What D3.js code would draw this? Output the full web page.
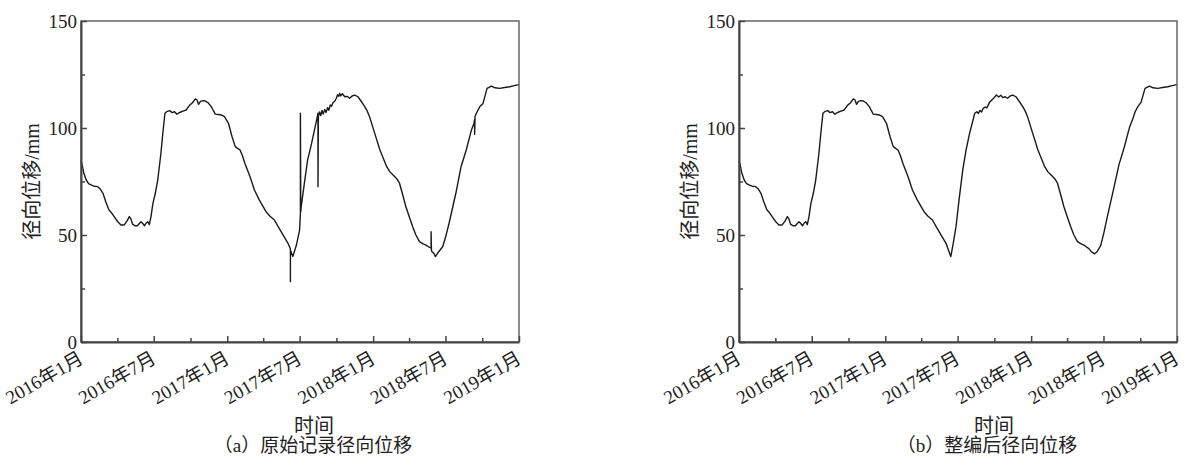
<!DOCTYPE html>
<html>
<head>
<meta charset="utf-8">
<script src="https://cdn.jsdelivr.net/npm/d3@7"></script>
<style>
  body { margin: 0; background: #fff; }
  svg { display: block; }
  text { font-family: "Liberation Serif", "Noto Sans CJK SC", serif; fill: #222; }
</style>
</head>
<body>
<svg width="1191" height="458"></svg>
<script>
// raw record (with spikes, repeated dates = vertical jumps)
const rawSeries = [
  ["2016-01-01", 84.5], ["2016-01-03", 83.5], ["2016-01-08", 79], ["2016-01-14", 75.7], ["2016-01-20", 74],
  ["2016-01-26", 73.4], ["2016-02-03", 72.8], ["2016-02-12", 72.6], ["2016-02-18", 71.5], ["2016-02-25", 69.5],
  ["2016-03-03", 65.5], ["2016-03-11", 61.7], ["2016-03-17", 60.5], ["2016-03-24", 58.6], ["2016-04-02", 56.2],
  ["2016-04-10", 54.7], ["2016-04-18", 54.7], ["2016-04-25", 56.5], ["2016-05-01", 58.6], ["2016-05-05", 57.5],
  ["2016-05-09", 55.1], ["2016-05-15", 54.3], ["2016-05-21", 54.3], ["2016-05-30", 56.2], ["2016-06-03", 55.5],
  ["2016-06-08", 54.3], ["2016-06-12", 55.6], ["2016-06-16", 56.2], ["2016-06-20", 54.8], ["2016-06-24", 58.5],
  ["2016-06-29", 64.8], ["2016-07-05", 69.5], ["2016-07-11", 75.7], ["2016-07-19", 88.2], ["2016-07-24", 98],
  ["2016-07-29", 106.9], ["2016-08-04", 107.8], ["2016-08-10", 108.1], ["2016-08-16", 107.2], ["2016-08-22", 107.6],
  ["2016-08-28", 106.4], ["2016-09-03", 107.2], ["2016-09-08", 107.6], ["2016-09-14", 108], ["2016-09-20", 108.4],
  ["2016-09-29", 110.7], ["2016-10-06", 111.8], ["2016-10-13", 113.6], ["2016-10-17", 113.2], ["2016-10-21", 111.1],
  ["2016-10-26", 112.4], ["2016-11-01", 112.8], ["2016-11-07", 112.6], ["2016-11-14", 111.8], ["2016-11-22", 110],
  ["2016-11-27", 108.2], ["2016-12-02", 106.5], ["2016-12-10", 106.3], ["2016-12-17", 106.1], ["2016-12-25", 105.3],
  ["2017-01-04", 102.2], ["2017-01-13", 95.9], ["2017-01-21", 91.3], ["2017-01-27", 90.5], ["2017-02-02", 89.7],
  ["2017-02-08", 87], ["2017-02-14", 83.5], ["2017-02-27", 77.2], ["2017-03-10", 71], ["2017-03-22", 66.4],
  ["2017-04-08", 60.9], ["2017-04-18", 58.8], ["2017-04-29", 57], ["2017-05-08", 54], ["2017-05-16", 51.5],
  ["2017-06-02", 46.1], ["2017-06-08", 43.5], ["2017-06-08", 28.2], ["2017-06-08", 43], ["2017-06-14", 39.9],
  ["2017-06-23", 45.3], ["2017-07-01", 52.3], ["2017-07-03", 60], ["2017-07-03", 106.9], ["2017-07-04", 61],
  ["2017-07-05", 63.2], ["2017-07-13", 74.2], ["2017-07-21", 85], ["2017-07-31", 92.8], ["2017-08-09", 100.6],
  ["2017-08-13", 104], ["2017-08-16", 106.9], ["2017-08-16", 72.6], ["2017-08-17", 105.5], ["2017-08-20", 107.5],
  ["2017-08-23", 105.8], ["2017-08-26", 108.2], ["2017-08-29", 106.5], ["2017-09-02", 108.6], ["2017-09-05", 107.2],
  ["2017-09-09", 109.5], ["2017-09-12", 108.3], ["2017-09-16", 110.8], ["2017-09-19", 110.2], ["2017-09-23", 112],
  ["2017-09-27", 112.5], ["2017-10-01", 113.9], ["2017-10-04", 115.5], ["2017-10-07", 114.8], ["2017-10-09", 116.2],
  ["2017-10-12", 115], ["2017-10-16", 116], ["2017-10-22", 114.6], ["2017-10-28", 114.8], ["2017-11-03", 113.9],
  ["2017-11-10", 115], ["2017-11-16", 115.4], ["2017-11-24", 114.6], ["2017-12-02", 112.5], ["2017-12-11", 110],
  ["2017-12-17", 108], ["2017-12-23", 105.3], ["2018-01-05", 97.5], ["2018-01-18", 89.7], ["2018-02-04", 81.9],
  ["2018-02-12", 79.5], ["2018-02-20", 78], ["2018-03-01", 76.3], ["2018-03-08", 74.2], ["2018-03-16", 68.8],
  ["2018-03-24", 63.2], ["2018-04-02", 58.2], ["2018-04-10", 53.9], ["2018-04-18", 50], ["2018-04-27", 46.9],
  ["2018-05-05", 46], ["2018-05-13", 45.3], ["2018-05-26", 43.8], ["2018-05-26", 51.5], ["2018-05-27", 42.5],
  ["2018-06-02", 41.4], ["2018-06-06", 39.9], ["2018-06-12", 41.7], ["2018-06-24", 44.5], ["2018-07-02", 49.5],
  ["2018-07-10", 55.5], ["2018-07-27", 69.5], ["2018-08-09", 81.9], ["2018-08-22", 89.7], ["2018-09-04", 99.1],
  ["2018-09-10", 102], ["2018-09-12", 104], ["2018-09-12", 97], ["2018-09-13", 105.5], ["2018-09-18", 107.5],
  ["2018-09-25", 110], ["2018-10-03", 111.5], ["2018-10-13", 118.5], ["2018-10-24", 119.6], ["2018-11-02", 118.8],
  ["2018-11-14", 118.5], ["2018-11-26", 118.9], ["2018-12-09", 119.3], ["2018-12-20", 119.8], ["2018-12-31", 120.3]
];

// compiled (cleaned) record
const cleanSeries = [
  ["2016-01-01", 84.5], ["2016-01-03", 83.5], ["2016-01-08", 79], ["2016-01-14", 75.7], ["2016-01-20", 74],
  ["2016-01-26", 73.4], ["2016-02-03", 72.8], ["2016-02-12", 72.6], ["2016-02-18", 71.5], ["2016-02-25", 69.5],
  ["2016-03-03", 65.5], ["2016-03-11", 61.7], ["2016-03-17", 60.5], ["2016-03-24", 58.6], ["2016-04-02", 56.2],
  ["2016-04-10", 54.7], ["2016-04-18", 54.7], ["2016-04-25", 56.5], ["2016-05-01", 58.6], ["2016-05-05", 57.5],
  ["2016-05-09", 55.1], ["2016-05-15", 54.3], ["2016-05-21", 54.3], ["2016-05-30", 56.2], ["2016-06-03", 55.5],
  ["2016-06-08", 54.3], ["2016-06-12", 55.6], ["2016-06-16", 56.2], ["2016-06-20", 54.8], ["2016-06-24", 58.5],
  ["2016-06-29", 64.8], ["2016-07-05", 69.5], ["2016-07-11", 75.7], ["2016-07-19", 88.2], ["2016-07-24", 98],
  ["2016-07-29", 106.9], ["2016-08-04", 107.8], ["2016-08-10", 108.1], ["2016-08-16", 107.2], ["2016-08-22", 107.6],
  ["2016-08-28", 106.4], ["2016-09-03", 107.2], ["2016-09-08", 107.6], ["2016-09-14", 108], ["2016-09-20", 108.4],
  ["2016-09-29", 110.7], ["2016-10-06", 111.8], ["2016-10-13", 113.6], ["2016-10-17", 113.2], ["2016-10-21", 111.1],
  ["2016-10-26", 112.4], ["2016-11-01", 112.8], ["2016-11-07", 112.6], ["2016-11-14", 111.8], ["2016-11-22", 110],
  ["2016-11-27", 108.2], ["2016-12-02", 106.5], ["2016-12-10", 106.3], ["2016-12-17", 106.1], ["2016-12-25", 105.3],
  ["2017-01-04", 102.2], ["2017-01-13", 95.9], ["2017-01-21", 91.3], ["2017-01-27", 90.5], ["2017-02-02", 89.7],
  ["2017-02-08", 87], ["2017-02-14", 83.5], ["2017-02-27", 77.2], ["2017-03-10", 71], ["2017-03-22", 66.4],
  ["2017-04-08", 60.9], ["2017-04-18", 58.8], ["2017-04-29", 57], ["2017-05-08", 54], ["2017-05-16", 51.5],
  ["2017-06-02", 46.1], ["2017-06-08", 43], ["2017-06-14", 39.9], ["2017-06-20", 46], ["2017-06-27", 53.9],
  ["2017-07-05", 67], ["2017-07-14", 80.4], ["2017-07-22", 89.5], ["2017-07-31", 97.5], ["2017-08-13", 106.9],
  ["2017-08-18", 107.6], ["2017-08-22", 106.8], ["2017-08-26", 108.2], ["2017-08-30", 107.5], ["2017-09-03", 109.2],
  ["2017-09-08", 109.8], ["2017-09-12", 109.4], ["2017-09-20", 112.3], ["2017-09-27", 113.5], ["2017-10-02", 114.5],
  ["2017-10-06", 115.4], ["2017-10-12", 114.5], ["2017-10-17", 115.3], ["2017-10-22", 114.2], ["2017-10-28", 114.6],
  ["2017-11-03", 113.9], ["2017-11-10", 115], ["2017-11-16", 115.4], ["2017-11-24", 114.6], ["2017-12-02", 112.5],
  ["2017-12-11", 110], ["2017-12-17", 108], ["2017-12-23", 105.3], ["2018-01-05", 97.5], ["2018-01-18", 89.7],
  ["2018-02-04", 81.9], ["2018-02-12", 79.5], ["2018-02-20", 78], ["2018-03-01", 76.3], ["2018-03-08", 74.2],
  ["2018-03-16", 68.8], ["2018-03-24", 63.2], ["2018-04-02", 58.2], ["2018-04-10", 53.9], ["2018-04-18", 50],
  ["2018-04-27", 46.9], ["2018-05-05", 46], ["2018-05-13", 45.3], ["2018-05-26", 43.5], ["2018-06-02", 42],
  ["2018-06-09", 41.2], ["2018-06-15", 42.2], ["2018-06-24", 45], ["2018-07-02", 51], ["2018-07-10", 58],
  ["2018-07-27", 72], ["2018-08-09", 83], ["2018-08-22", 91], ["2018-09-04", 100.2], ["2018-09-13", 104.5],
  ["2018-09-18", 107.5], ["2018-09-25", 110], ["2018-10-03", 112], ["2018-10-13", 118.5], ["2018-10-24", 119.6],
  ["2018-11-02", 118.8], ["2018-11-14", 118.5], ["2018-11-26", 118.9], ["2018-12-09", 119.3], ["2018-12-20", 119.8],
  ["2018-12-31", 120.3]
];

const majorYTicks = [0, 50, 100, 150];
const minorYTicks = [25, 75, 125];
const majorXTicks = ["2016-01-01", "2016-07-01", "2017-01-01", "2017-07-01", "2018-01-01", "2018-07-01", "2019-01-01"];
const minorXTicks = ["2016-04-01", "2016-10-01", "2017-04-01", "2017-10-01", "2018-04-01", "2018-10-01"];
const xTitle = "时间";
const yTitle = "径向位移/mm";
const captions = ["（a）原始记录径向位移", "（b）整编后径向位移"];

const parse = d3.timeParse("%Y-%m-%d");
const svg = d3.select("svg");

const panels = [
  { series: rawSeries, left: 81, caption: captions[0], titleX: 314, captionX: 313 },
  { series: cleanSeries, left: 739, caption: captions[1], titleX: 994, captionX: 987 }
];

const plotW = 438, plotTop = 21, plotBottom = 342;

panels.forEach(p => {
  const x = d3.scaleTime()
    .domain([parse("2016-01-01"), parse("2019-01-01")])
    .range([p.left, p.left + plotW]);
  const y = d3.scaleLinear().domain([0, 150]).range([plotBottom, plotTop]);

  // frame
  svg.append("rect")
    .attr("x", p.left).attr("y", plotTop)
    .attr("width", plotW).attr("height", plotBottom - plotTop)
    .attr("fill", "none").attr("stroke", "#666").attr("stroke-width", 1.5);

  // curve
  const line = d3.line()
    .x(d => x(parse(d[0])))
    .y(d => y(d[1]));
  svg.append("path")
    .datum(p.series)
    .attr("d", line)
    .attr("fill", "none")
    .attr("stroke", "#1a1a1a")
    .attr("stroke-width", 1.4)
    .attr("stroke-linejoin", "round");

  // y axis
  const yAxis = svg.append("g")
    .attr("transform", `translate(${p.left},0)`)
    .call(d3.axisLeft(y).tickValues(majorYTicks).tickSizeInner(-6).tickSizeOuter(0).tickPadding(4));
  svg.append("g")
    .attr("transform", `translate(${p.left},0)`)
    .call(d3.axisLeft(y).tickValues(minorYTicks).tickSizeInner(-4).tickSizeOuter(0).tickFormat(""))
    .select(".domain").remove();

  // x axis
  const xAxis = svg.append("g")
    .attr("transform", `translate(0,${plotBottom})`)
    .call(d3.axisBottom(x).tickValues(majorXTicks.map(parse)).tickSizeInner(-6).tickSizeOuter(0)
      .tickFormat(d => `${d.getFullYear()}年${d.getMonth() + 1}月`));
  svg.append("g")
    .attr("transform", `translate(0,${plotBottom})`)
    .call(d3.axisBottom(x).tickValues(minorXTicks.map(parse)).tickSizeInner(-4).tickSizeOuter(0).tickFormat(""))
    .select(".domain").remove();

  xAxis.selectAll("text")
    .attr("x", 0).attr("y", 0).attr("dy", 0)
    .attr("text-anchor", "end")
    .attr("transform", "translate(3,20) rotate(-30)");

  [yAxis, xAxis].forEach(a => {
    a.selectAll("text").style("font-size", "19px").attr("fill", "#222").style("font-family", null);
    a.select(".domain").attr("stroke", "#444").attr("stroke-width", 2);
  });
  svg.selectAll(".tick line").attr("stroke", "#444").attr("stroke-width", 1.5);

  // titles
  svg.append("text")
    .attr("transform", `translate(${p.left - 49},${(plotTop + plotBottom) / 2}) rotate(-90)`)
    .attr("text-anchor", "middle")
    .attr("dy", "0.35em")
    .style("font-size", "20px")
    .text(yTitle);

  svg.append("text")
    .attr("x", p.titleX).attr("y", 433)
    .attr("text-anchor", "middle")
    .style("font-size", "20px")
    .text(xTitle);

  svg.append("text")
    .attr("x", p.captionX).attr("y", 452)
    .attr("text-anchor", "middle")
    .style("font-size", "19px")
    .text(p.caption);
});
</script>
</body>
</html>
